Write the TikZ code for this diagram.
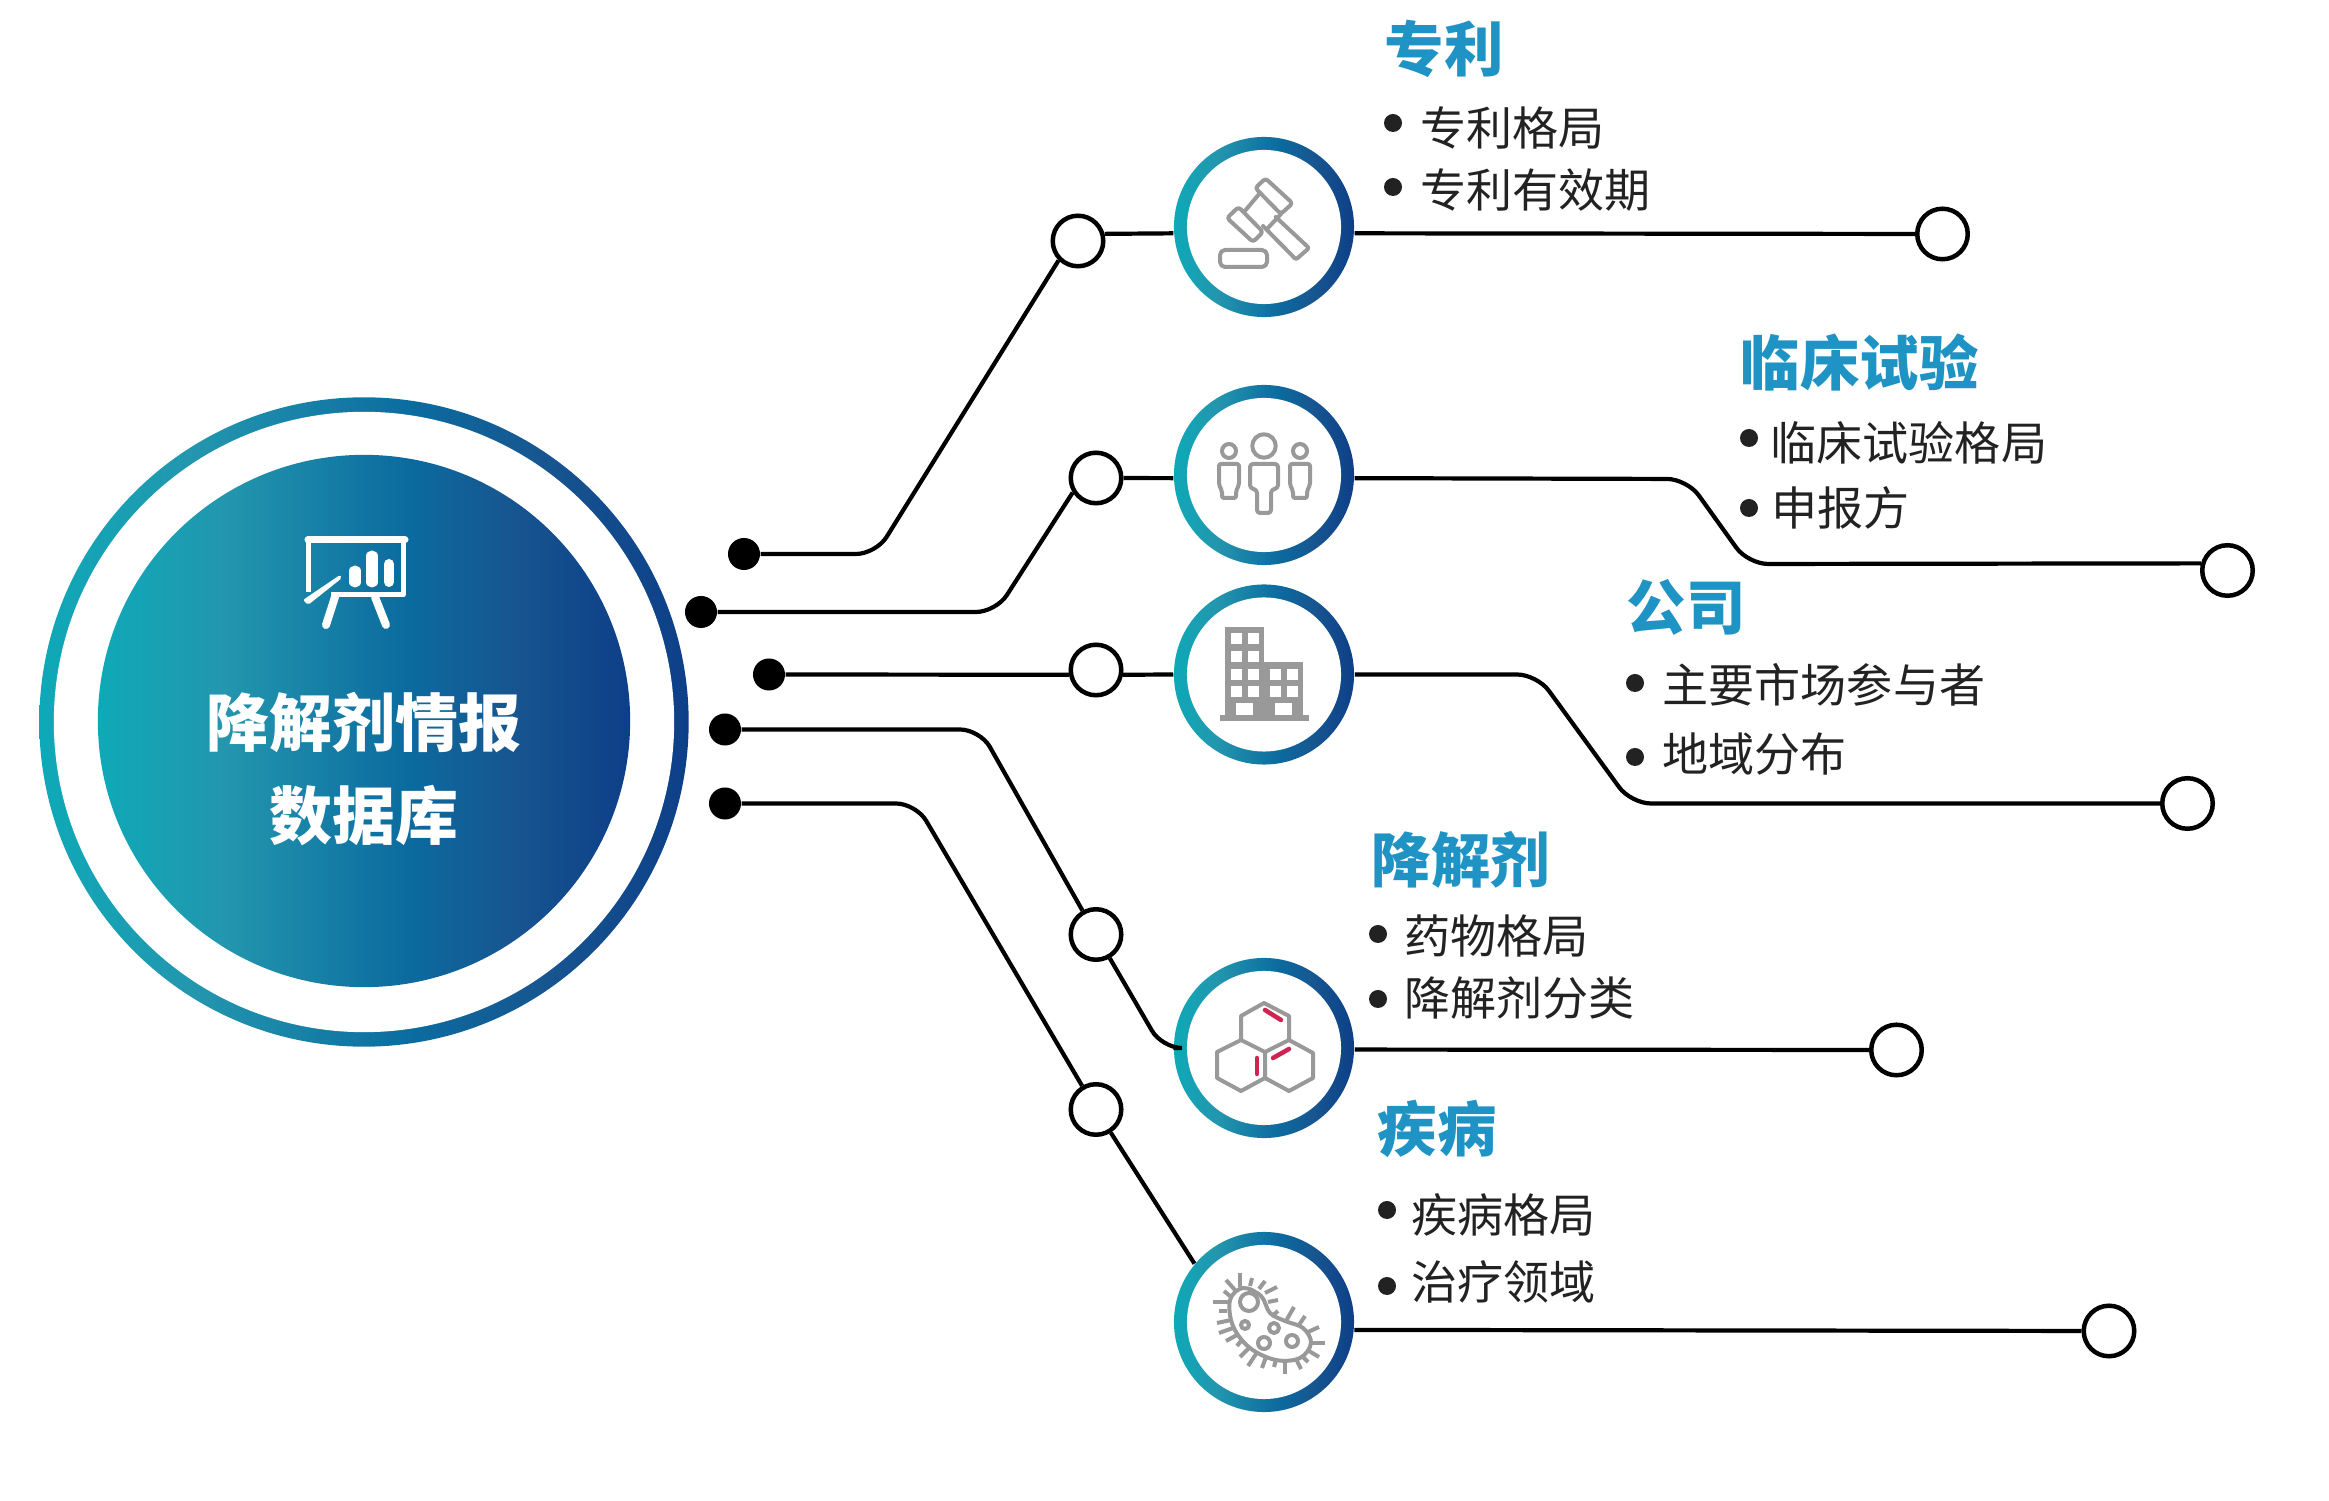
\documentclass[tikz,border=0pt]{standalone}
\usepackage{fontspec}
\usepackage{tikz}
\usetikzlibrary{positioning}
\newfontfamily\cjk{Noto Sans CJK SC}
\definecolor{headblue}{HTML}{2093C5}
\definecolor{icongrey}{HTML}{999999}
\definecolor{iconred}{HTML}{D0234F}
\definecolor{inktext}{HTML}{222222}
\definecolor{ringa}{HTML}{0EA9B8}
\definecolor{ringb}{HTML}{2396AE}
\definecolor{ringc}{HTML}{0B6B9F}
\definecolor{ringd}{HTML}{175590}
\definecolor{ringe}{HTML}{0D3F88}
\pgfdeclarehorizontalshading{ringshade}{100bp}{
  color(0bp)=(ringa);
  color(25bp)=(ringa);
  color(37bp)=(ringb);
  color(54bp)=(ringc);
  color(64bp)=(ringd);
  color(75bp)=(ringe);
  color(100bp)=(ringe)}
\tikzset{
  ring/.style={circle, inner sep=0pt, minimum size=#1, shading=ringshade},
  iconring/.style={ring=1.8cm, path picture={\fill[white] (path picture bounding box.center) circle (0.77cm);}},
  dot/.style={circle, fill=black, inner sep=0pt, minimum size=0.32cm},
  opendot/.style={circle, draw=black, fill=white, line width=0.045cm, inner sep=0pt, minimum size=0.505cm},
  link/.style={draw=black, line width=0.042cm, rounded corners=0.2cm},
  heading/.style={anchor=west, inner sep=0pt, text=headblue, font=\cjk\bfseries\fontsize{16.9}{18}\selectfont},
  itemtext/.style={anchor=west, inner sep=0pt, text=inktext, font=\cjk\fontsize{13.1}{15}\selectfont},
  bulletdot/.style={circle, fill=inktext, inner sep=0pt, minimum size=0.18cm},
  iconline/.style={draw=icongrey, line width=0.04cm, line join=round, line cap=round, fill=none}
}
\begin{document}
\begin{tikzpicture}[x=0.01cm, y=-0.01cm]
  \useasboundingbox (0,0) rectangle (2329,1501);

  % centre disc
  \node[ring=6.49cm, path picture={\fill[white] (path picture bounding box.center) circle (3.1cm);}] (main) at (364,722) {};
  \node[ring=5.32cm] (disc) at (364,721) {};
  \node[align=center, inner sep=0pt, text=white, font=\cjk\bfseries\fontsize{17.9}{26.5}\selectfont] (title) at (364,769) {降解剂情报\\数据库};

  % icon circles
  \node[iconring] (patent) at (1264,227) {};
  \node[iconring] (trial) at (1264,475) {};
  \node[iconring] (company) at (1264,674.5) {};
  \node[iconring] (degrader) at (1264,1048) {};
  \node[iconring] (disease) at (1264,1322) {};

  % start dots
  \node[dot] (d1) at (744,554) {};
  \node[dot] (d2) at (701,612) {};
  \node[dot] (d3) at (769,674.5) {};
  \node[dot] (d4) at (725,729.5) {};
  \node[dot] (d5) at (725,803.5) {};

  % open dots, left
  \node[opendot] (o1) at (1078,241) {};
  \node[opendot] (o2) at (1096,478) {};
  \node[opendot] (o3) at (1096,670) {};
  \node[opendot] (o4) at (1096,934.5) {};
  \node[opendot] (o5) at (1096,1109.5) {};

  % open dots, right
  \node[opendot] (e1) at (1942.5,234) {};
  \node[opendot] (e2) at (2227.5,570.5) {};
  \node[opendot] (e3) at (2187.5,803.5) {};
  \node[opendot] (e4) at (1896.5,1050) {};
  \node[opendot] (e5) at (2109,1331) {};

  % bends
  \coordinate (b1) at (876,554);
  \coordinate (b2) at (996,612);
  \coordinate (b4) at (980,729.5);
  \coordinate (b5) at (916,803.5);
  \coordinate (c2) at (1687,479);
  \coordinate (f2) at (1748,564);
  \coordinate (c3) at (1537,674.5);
  \coordinate (f3) at (1631,803.5);
  \coordinate (c4) at (1162,1048);

  % connectors
  \draw[link] (d1) -- (b1) -- (o1.225);
  \draw[link] (o1.15) -- (patent.184.5);
  \draw[link] (patent.-4.5) -- (e1);
  \draw[link] (d2) -- (b2) -- (o2.212);
  \draw[link] (o2) -- (trial.182.6);
  \draw[link] (trial.-2.6) -- (c2) -- (f2) -- (e2.165);
  \draw[link] (d3) -- (o3.190);
  \draw[link] (o3.-10) -- (company.west);
  \draw[link] (company.east) -- (c3) -- (f3) -- (e3);
  \draw[link] (d4) -- (b4) -- (o4);
  \draw[link, rounded corners=0.2cm] (o4) -- (c4) -- (degrader.west);
  \draw[link] (degrader.-1) -- (e4);
  \draw[link] (d5) -- (b5) -- (o5);
  \draw[link] (o5) -- (disease.140);
  \draw[link] (disease.-5) -- (e5);

  % headings
  \foreach \tx/\ty/\txt [count=\n] in {1384/49/专利, 1740/363/临床试验, 1626/607/公司, 1371/860/降解剂, 1377/1129/疾病}
    \node[heading] (h\n) at (\tx,\ty) {\txt};

  % bullet lists
  \foreach \bx/\by/\tx/\ty/\txt [count=\n] in {
      1393/123/1420/128/专利格局,
      1393/187/1420/190/专利有效期,
      1749/438/1770/443/临床试验格局,
      1749/508/1771/508/申报方,
      1635/683/1662/685/主要市场参与者,
      1635/757/1662/754/地域分布,
      1378/934/1404/936/药物格局,
      1378/999/1404/998/降解剂分类,
      1387/1210/1411/1215/疾病格局,
      1387/1286/1411/1282/治疗领域} {
    \node[bulletdot] (p\n) at (\bx,\by) {};
    \node[itemtext] (t\n) at (\tx,\ty) {\txt};
  }

  % board icon
  \draw[white, line width=0.07cm, line cap=round] (308,540) -- (405,540);
  \draw[white, line width=0.05cm] (308,542) -- (308,592);
  \draw[white, line width=0.05cm, line join=round] (403,542) -- (403,595) -- (331,595);
  \draw[white, line width=0.08cm, line cap=round] (335,597) -- (326,625);
  \draw[white, line width=0.08cm, line cap=round] (375,597) -- (386,625);
  \draw[white, line width=0.11cm, line cap=round] (355,571) -- (355,582);
  \draw[white, line width=0.11cm, line cap=round] (372,556) -- (372,582);
  \draw[white, line width=0.10cm, line cap=round] (389,564) -- (389,582);
  \fill[white, rounded corners=0.02cm] (303,600) -- (340,575) -- (342,578) -- (308,605) -- cycle;

  % gavel icon
  \begin{scope}[shift={(patent.center)}]
    \draw[iconline, rounded corners=0.03cm] (1.5,-48.6) -- (28.6,-23.7) -- (16.8,-13) -- (-8.7,-39) -- cycle;
    \draw[iconline, rounded corners=0.03cm] (-25.5,-20) -- (-1,5) -- (-11,15) -- (-37,-9) -- cycle;
    \draw[iconline] (-4,-34) -- (-20,-15);
    \draw[iconline] (17,-13) -- (3,2);
    \draw[iconline, rounded corners=0.02cm] (11.7,-10) -- (45,21) -- (32,32.5) -- (-1,-1);
    \draw[iconline, rounded corners=0.05cm] (-44,23) rectangle (3,40);
  \end{scope}

  % people icon
  \begin{scope}[shift={(trial.center)}]
    \draw[iconline] (0,-29) circle (0.117cm);
    \draw[iconline] (-35,-24) circle (0.07cm);
    \draw[iconline] (36,-24) circle (0.07cm);
    \draw[iconline, rounded corners=0.03cm] (-14,-11) -- (14,-11) -- (14,13) -- (7,15) -- (7,38) -- (-7,38) -- (-7,15) -- (-14,13) -- cycle;
    \foreach \cx in {-35,36}
      \draw[iconline, rounded corners=0.02cm] (\cx-10,-11) -- (\cx+10,-11) -- (\cx+10,10) -- (\cx+7,16) -- (\cx+7,23) -- (\cx-7,23) -- (\cx-7,16) -- (\cx-10,10) -- cycle;
  \end{scope}

  % building icon
  \begin{scope}[shift={(company.center)}]
    \fill[icongrey] (-44,41) rectangle (45,47);
    \fill[icongrey] (-39,-47) rectangle (0,41);
    \fill[icongrey] (0,-12) rectangle (39,41);
    \foreach \wy in {-41,-23,-5,12} {
      \fill[white] (-33,\wy) rectangle ++(11,11);
      \fill[white] (-16,\wy) rectangle ++(11,11);
    }
    \foreach \wy in {-5,12} {
      \fill[white] (6,\wy) rectangle ++(11,11);
      \fill[white] (23,\wy) rectangle ++(11,11);
    }
    \fill[white] (-28,29) rectangle (-11,41);
    \fill[white] (11,29) rectangle (28,41);
  \end{scope}

  % molecule icon
  \begin{scope}[shift={(degrader.center)}]
    \draw[iconline] (0,-45) -- (25,-32) -- (25,-8) -- (1,4) -- (-23,-8) -- (-23,-32) -- cycle;
    \draw[iconline] (-23,-8) -- (-47,4) -- (-47,30) -- (-23,43) -- (1,30) -- (1,4);
    \draw[iconline] (25,-8) -- (49,5) -- (49,30) -- (25,43) -- (1,30);
    \draw[iconred, line width=0.045cm, line cap=round] (1,-38) -- (17,-28);
    \draw[iconred, line width=0.045cm, line cap=round] (-7,10) -- (-7,26);
    \draw[iconred, line width=0.045cm, line cap=round] (9,10) -- (25,1);
  \end{scope}

  % bacterium icon
  \begin{scope}[shift={(disease.center)}]
    \draw[iconline] plot[smooth cycle, tension=0.6] coordinates {(-34,-22) (-21,-34) (-3,-26) (6,-9) (21,-1) (39,6) (47,21) (36,36) (12,38) (-14,26) (-31,4)};
    \draw[iconline] (-15,-20) circle (0.09cm);
    \draw[iconline] (-19,3) circle (0.04cm);
    \draw[iconline] (10,6) circle (0.05cm);
    \draw[iconline] (0,21) circle (0.06cm);
    \draw[iconline] (28,19) circle (0.06cm);
    \foreach \ax/\ay/\bx/\by in {-24/-49/-24/-35, -38/-42/-29/-32, -40/-31/-34/-26, -51/-20/-36/-20,
        -45/-11/-37/-11, -47/1/-33/-2, -45/11/-31/6, -38/19/-27/13, -27/24/-23/19, -24/35/-15/26,
        -16/44/-8/32, -2/46/2/35, 10/45/12/38, 21/52/21/38, 37/47/32/37, 44/40/38/34, 55/35/45/29,
        61/21/47/21, 55/5/44/10, 41/-6/35/3, 30/-15/22/-1, 14/-11/8/-6, 14/-22/4/-20, 13/-35/1/-29,
        1/-41/-5/-33, -12/-44/-14/-36}
      \draw[iconline, line cap=butt] (\ax,\ay) -- (\bx,\by);
  \end{scope}
\end{tikzpicture}
\end{document}
